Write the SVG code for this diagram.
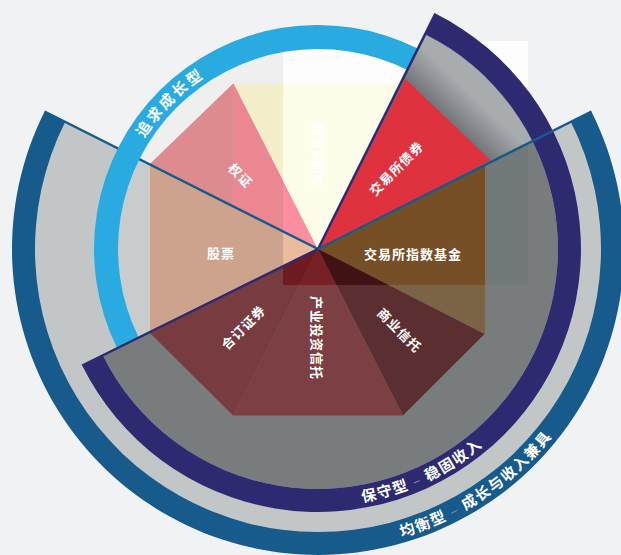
<svg xmlns="http://www.w3.org/2000/svg" xmlns:xlink="http://www.w3.org/1999/xlink" width="621" height="555" viewBox="0 0 621 555">
<style>
.lbl{font-family:"Noto Sans CJK SC","Noto Sans",sans-serif;font-weight:700;font-size:13px;fill:#fff;text-anchor:middle;dominant-baseline:central;letter-spacing:1px}
.ring{font-family:"Noto Sans CJK SC","Noto Sans",sans-serif;font-weight:700;font-size:15px;fill:#fff;text-anchor:middle}
.dash{font-weight:300;fill-opacity:0.55}
.edgeB{stroke:#175A8C;stroke-width:2.5;fill:none}
.edgeN{stroke:#2E2A72;stroke-width:2.5;fill:none}
</style>
<defs>
<filter id="ov" filterUnits="userSpaceOnUse" x="0" y="0" width="621" height="555" color-interpolation-filters="sRGB">
<feBlend mode="overlay" in="SourceGraphic" in2="SourceGraphic"/>
</filter>
<clipPath id="rc"><rect x="283" y="41" width="245" height="244"/></clipPath>
<clipPath id="leftPart"><rect x="0" y="0" width="233" height="555"/></clipPath>
<linearGradient id="sh" gradientUnits="userSpaceOnUse" x1="447.9" y1="119.7" x2="472" y2="94.4">
<stop offset="0" stop-color="#4E5256" stop-opacity="0.6"/>
<stop offset="1" stop-color="#4E5256" stop-opacity="0"/>
</linearGradient>
<path id="pBlue" d="M 112 249 A 206 206 0 0 1 524 249"/>
<path id="pNavy" d="M 61 249 A 257 257 0 0 0 575 249"/>
<path id="pBal" d="M 18 249 A 300 300 0 0 0 618 249"/>
</defs>

<g id="base">
<rect x="0" y="0" width="621" height="555" fill="#F1F2F4"/>
<g id="balanced-sector">
<path d="M 318 249 L 591.4 111.5 A 306 306 0 1 1 44.6 111.5 Z" fill="#175A8C"/>
<path d="M 318 249 L 570.8 121.8 A 283 283 0 1 1 65.2 121.8 Z" fill="#C2C6C7"/>
</g>
<g id="growth-fill">
<path d="M 318 249 L 134.9 156.9 A 205 205 0 0 1 409.5 65.5 Z" fill="#EFEFEF"/>
<path d="M 318 249 L 134.2 339.8 A 205 205 0 0 1 134.9 156.9 Z" fill="#C9CCCD"/>
</g>
<g id="conservative-fill">
<path d="M 318 249 L 425.1 34.2 A 240 240 0 1 1 102.8 355.3 Z" fill="#787C7C"/>
</g>
<g id="slices">
<polygon id="s-warrant" points="318,249 233.6,83.3 150,164" fill="#EB8791"/>
<polygon points="318,249 233.6,83.3 150,164" fill="#DE8B90" clip-path="url(#leftPart)"/>
<polygon id="s-futures" points="318,249 233.6,83.3 402.4,83.3" fill="#F3EFCB"/>
<polygon id="s-stock" points="318,249 150,164 150,333" fill="#CDA38E"/>
<polygon id="s-etf" points="318,249 485,163 485,334" fill="#7B6446"/>
<polygon id="s-commercial" points="318,249 484.6,333.9 402.9,415.6" fill="#5B2E32"/>
<polygon id="s-industrial" points="318,249 402.9,415.6 233.1,415.6" fill="#7B3F44"/>
<polygon id="s-stapled" points="318,249 233.1,415.6 150,333" fill="#773B40"/>
</g>
</g>

<g clip-path="url(#rc)"><use xlink:href="#base" href="#base" filter="url(#ov)"/></g>

<g id="upper-right">
<path d="M 318 249 L 425.1 34.2 A 240 240 0 0 1 532.4 141.2 Z" fill="#A9ACAF"/>
<path d="M 318 249 L 425.1 34.2 A 240 240 0 0 1 532.4 141.2 Z" fill="url(#sh)"/>
<polygon id="s-bond" points="318,249 405.3,79.1 490.5,160.3" fill="#E0313F"/>
</g>

<g id="connectors">
<line class="edgeB" x1="44.6" y1="111.5" x2="318" y2="249"/>
</g>

<g id="growth-ring">
<path d="M 117.2 348.3 A 224 224 0 0 1 417.9 48.5 L 407.2 70 A 200 200 0 0 0 138.7 337.6 Z" fill="#29ABE2"/>
<text class="ring" letter-spacing="2.5"><textPath href="#pBlue" startOffset="24.8%">追求成长型</textPath></text>
</g>

<g id="conservative-ring">
<path d="M 435.4 13.6 A 263 263 0 1 1 82.2 365.5 L 102.8 355.3 A 240 240 0 1 0 425.1 34.2 Z" fill="#2E2A72"/>
<line class="edgeN" x1="435.4" y1="13.6" x2="318" y2="249"/>
<line class="edgeN" x1="82.2" y1="365.5" x2="318" y2="249"/>
<text class="ring" letter-spacing="1.5"><textPath href="#pNavy" startOffset="63.9%">保守型 <tspan class="dash">–</tspan> 稳固收入</textPath></text>
</g>

<g id="balanced-ring">
<line class="edgeB" x1="591.4" y1="111.5" x2="318" y2="249"/>
<text class="ring" letter-spacing="1.5"><textPath href="#pBal" startOffset="68.8%">均衡型 <tspan class="dash">–</tspan> 成长与收入兼具</textPath></text>
</g>

<g id="labels">
<text class="lbl" x="241" y="175" transform="rotate(45 241 175)">权证</text>
<text class="lbl" x="318" y="155" transform="rotate(90 318 155)">期货&amp;期权</text>
<text class="lbl" x="396" y="168" transform="rotate(-45 396 168)">交易所债券</text>
<text class="lbl" x="221" y="252">股票</text>
<text class="lbl" x="413" y="253">交易所指数基金</text>
<text class="lbl" x="243" y="327" transform="rotate(-45 243 327)">合订证券</text>
<text class="lbl" x="317" y="338" transform="rotate(90 317 338)">产业投资信托</text>
<text class="lbl" x="400" y="330" transform="rotate(45 400 330)">商业信托</text>
</g>
</svg>
